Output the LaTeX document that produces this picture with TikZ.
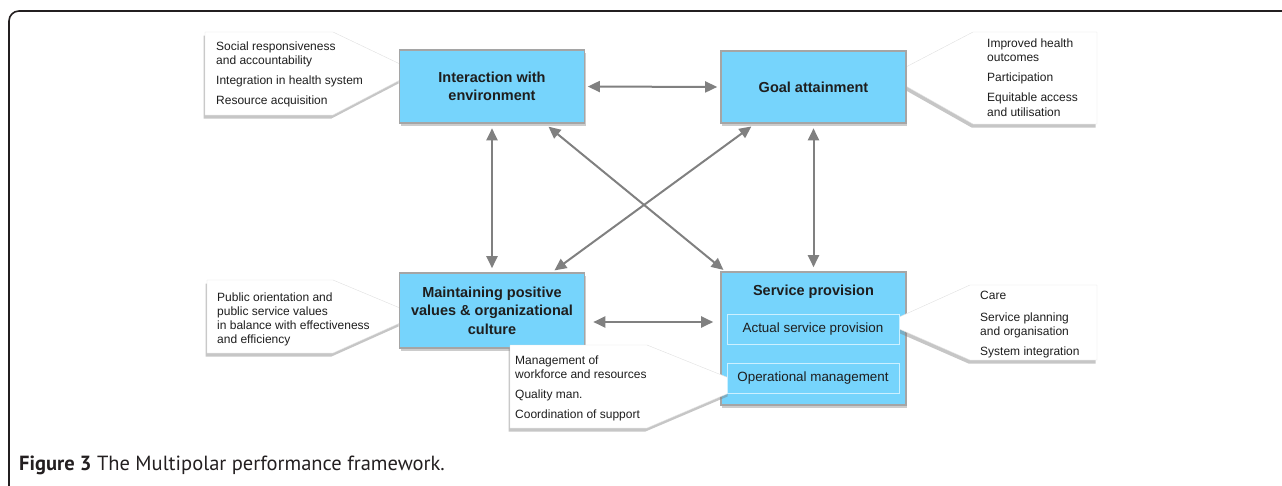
\documentclass[tikz,border=0pt]{standalone}
\usepackage{fontspec}
\setmainfont{Liberation Sans}
\newfontfamily\capfont{PT Sans}
\usetikzlibrary{shadows,arrows.meta,calc}
\definecolor{boxblue}{RGB}{118,212,252}
\definecolor{boxborder}{RGB}{165,165,165}
\definecolor{innerborder}{RGB}{205,240,255}
\definecolor{arrowgrey}{RGB}{128,128,128}
\definecolor{textdark}{RGB}{30,30,30}
\definecolor{framec}{RGB}{35,31,32}
\tikzset{
  mainbox/.style={draw=boxborder, line width=1.6pt, fill=boxblue,
    drop shadow={shadow xshift=1pt, shadow yshift=-3pt, opacity=0.4},
    inner sep=0pt, minimum width=185pt, align=center, text=textdark,
    font=\fontsize{14.5}{18.5}\selectfont\bfseries},
  innerbox/.style={draw=innerborder, line width=1pt, fill=boxblue,
    inner sep=0pt, minimum width=172pt, minimum height=30pt, text=textdark,
    font=\fontsize{13.4}{16}\selectfont},
  callout/.style={fill=white, draw=black!12, line width=0.4pt,
    drop shadow={shadow xshift=-1.5pt, shadow yshift=-3.5pt, opacity=0.45}},
  ctext/.style={anchor=base west, inner sep=0pt, text=textdark,
    font=\fontsize{12}{14}\selectfont},
  arr/.style={draw=arrowgrey, line width=2pt,
    {Triangle[length=12pt,width=11pt]}-{Triangle[length=12pt,width=11pt]}}
}
\begin{document}
\begin{tikzpicture}[x=1pt,y=-1pt]
\useasboundingbox (0,0) rectangle (1282,485);
% outer frame
\draw[framec, line width=1.6pt, rounded corners=10pt] (9,486) -- (9,11) -- (1283,11);

% callouts behind boxes
\path[callout] (205,32) -- (333,32) -- (400,64) -- (400,80) -- (333,115) -- (205,115) -- cycle;
\path[callout] (973,32) -- (1097,32) -- (1097,124) -- (973,124) -- (904,85) -- (904,68) -- cycle;
\path[callout] (207,280) -- (333,280) -- (400,308) -- (400,323) -- (333,353) -- (207,353) -- cycle;

% main boxes
\node[mainbox, minimum height=73pt] (b1) at (492,86.5) {Interaction with\\environment};
\node[mainbox, minimum height=72pt] (b2) at (813.5,87) {Goal attainment};
\node[mainbox, minimum height=75pt] (b3) at (492,310.5) {Maintaining positive\\values \& organizational\\culture};
\node[mainbox, minimum height=133pt] (b4) at (813.5,338.5) {};
\node[anchor=base, inner sep=0pt, text=textdark, font=\fontsize{14.5}{18.5}\selectfont\bfseries] (b4t) at (813.5,295) {Service provision};

% callouts in front
\path[callout] (970,285) -- (1097,285) -- (1097,360) -- (970,360) -- (897,328) -- (897,318) -- cycle;
\path[callout] (510,345) -- (647,345) -- (729,378) -- (729,393) -- (647,428) -- (510,428) -- cycle;

% inner boxes
\node[innerbox] (i1) at (813,329) {Actual service provision};
\node[innerbox] (i2) at (813,378) {Operational management};

% callout texts
\node[ctext] (t1a) at (216,50) {Social responsiveness};
\node[ctext] (t1b) at (216,64) {and accountability};
\node[ctext] (t1c) at (216,84) {Integration in health system};
\node[ctext] (t1d) at (216,104) {Resource acquisition};

\node[ctext] (t2a) at (987,47) {Improved health};
\node[ctext] (t2b) at (987,61) {outcomes};
\node[ctext] (t2c) at (987,81) {Participation};
\node[ctext] (t2d) at (987,101) {Equitable access};
\node[ctext] (t2e) at (987,116) {and utilisation};

\node[ctext] (t3a) at (217,301) {Public orientation and};
\node[ctext] (t3b) at (217,315) {public service values};
\node[ctext] (t3c) at (217,329) {in balance with effectiveness};
\node[ctext] (t3d) at (217,343) {and efficiency};

\node[ctext] (t4a) at (980,299) {Care};
\node[ctext] (t4b) at (980,321) {Service planning};
\node[ctext] (t4c) at (980,335) {and organisation};
\node[ctext] (t4d) at (980,355) {System integration};

\node[ctext] (t5a) at (515,364) {Management of};
\node[ctext] (t5b) at (515,378) {workforce and resources};
\node[ctext] (t5c) at (515,398) {Quality man.};
\node[ctext] (t5d) at (515,418) {Coordination of support};

% connectors
\draw[arr, shorten <=2.5pt, shorten >=3pt] (b1.east) -- (b2.west);
\draw[arr, shorten <=4.5pt, shorten >=4pt] (b1.south) -- (b3.north);
\draw[arr, shorten <=4.5pt, shorten >=4pt] (b2.south) -- (b4.north);
\draw[arr, shorten <=4.5pt, shorten >=2pt] ([xshift=53pt]b1.south) -- ([xshift=-88.5pt]b4.north);
\draw[arr, shorten <=4.5pt, shorten >=3pt] ([xshift=-58.5pt]b2.south) -- ([xshift=60pt]b3.north);
\draw[arr, shorten <=8pt, shorten >=7pt] ([yshift=-11.5pt]b3.east) -- ([yshift=-11.5pt]b3.east -| b4.west);

% caption
\node[anchor=base west, inner sep=0pt, text=framec, font=\capfont\fontsize{20.5}{24}\selectfont] (cap) at (19,470) {\textbf{Figure 3} The Multipolar performance framework.};
\end{tikzpicture}
\end{document}
